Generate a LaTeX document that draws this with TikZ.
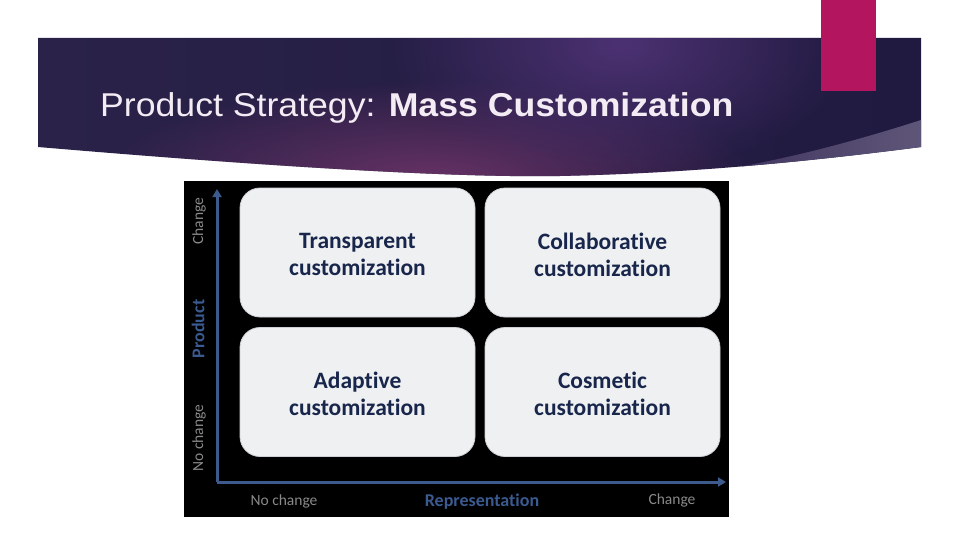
\documentclass[tikz,border=0pt]{standalone}
\usepackage{fontspec}
\usetikzlibrary{arrows.meta,fadings}
\newfontfamily\titlefont{Liberation Sans}
\newfontfamily\calfont[Ligatures=NoCommon]{Carlito}
\definecolor{bannerL}{HTML}{2A2249}
\definecolor{bannerM}{HTML}{5A2C5E}
\definecolor{bannerR}{HTML}{201A40}
\definecolor{glowV}{HTML}{4C3172}
\definecolor{glowM}{HTML}{6E3468}
\definecolor{stripeL}{HTML}{3B2D58}
\definecolor{stripeR}{HTML}{5E5679}
\definecolor{magentaR}{HTML}{B3165F}
\definecolor{titleC}{HTML}{F4ECF4}
\definecolor{boxfill}{HTML}{EFF0F2}
\definecolor{boxline}{HTML}{CDD0D5}
\definecolor{boxtext}{HTML}{18264C}
\definecolor{axisC}{HTML}{3D5A8C}
\definecolor{blueLbl}{HTML}{3A5A90}
\definecolor{grayLbl}{HTML}{8A8A8A}
\tikzfading[name=glowfade, inner color=transparent!0, outer color=transparent!100]
\tikzset{
  quad/.style={draw=boxline, line width=0.8pt, fill=boxfill, rounded corners=20pt,
    minimum width=235pt, minimum height=129pt},
  quadtext/.style={align=center, text=boxtext, inner sep=0pt, yshift=-2pt,
    font=\calfont\bfseries\fontsize{23.5}{27}\selectfont},
  axisline/.style={draw=axisC, line width=3pt, -{Triangle[length=8pt,width=9pt]}},
  graylbl/.style={text=grayLbl, inner sep=0pt, font=\calfont\fontsize{15.5}{18}\selectfont},
  bluelbl/.style={text=blueLbl, inner sep=0pt, font=\calfont\bfseries\fontsize{18}{20}\selectfont}
}
\begin{document}
\begin{tikzpicture}[x=1pt,y=-1pt]
\useasboundingbox (0,0) rectangle (960,540);
\fill[white] (0,0) rectangle (960,540);
% banner
\begin{scope}
  \clip (38,38) -- (921,38) -- (921,147) .. controls (820,160) and (700,173) .. (560,176)
        .. controls (450,178) and (250,165) .. (38,147) -- cycle;
  \shade[left color=bannerL, middle color=bannerM, right color=bannerR] (38,30) rectangle (921,190);
  \fill[glowM, path fading=glowfade, fill opacity=0.9] (430,180) ellipse (330 and 100);
  \fill[glowV, path fading=glowfade] (620,45) ellipse (230 and 130);
  \shade[left color=stripeL, right color=stripeR] (921,120) .. controls (840,146) and (760,166) .. (680,176)
        -- (680,200) -- (921,200) -- cycle;
\end{scope}
\fill[magentaR] (821,0) rectangle (876,91);
\node[anchor=base west, inner sep=0pt, text=titleC, xscale=1.08, transform shape,
  font=\titlefont\fontsize{33}{40}\selectfont] (title) at (100,117)
  {Product Strategy: \textbf{Mass Customization}};
% picture
\fill[black] (184,181) rectangle (729,517);
\node[quad] (tl) at (357.5,252.5) {};
\node[quad] (tr) at (602.5,252.5) {};
\node[quad] (bl) at (357.5,392) {};
\node[quad] (br) at (602.5,392) {};
\node[quadtext] (tltxt) at (tl) {Transparent\\customization};
\node[quadtext] (trtxt) at (tr) {Collaborative\\customization};
\node[quadtext] (bltxt) at (bl) {Adaptive\\customization};
\node[quadtext] (brtxt) at (br) {Cosmetic\\customization};
\coordinate (o) at (217,482);
\coordinate (ytip) at (217,189);
\coordinate (xtip) at (726,482);
\draw[axisline] (o) -- (ytip);
\draw[axisline] (o) -- (xtip);
\node[graylbl, rotate=90] (ychg) at (199,221) {Change};
\node[bluelbl, rotate=90] (yprod) at (198,329) {Product};
\node[graylbl, rotate=90] (ynochg) at (199,438) {No change};
\node[graylbl] (xnochg) at (284,501) {No change};
\node[bluelbl] (xrep) at (482,502) {Representation};
\node[graylbl] (xchg) at (672,500) {Change};
\end{tikzpicture}
\end{document}
